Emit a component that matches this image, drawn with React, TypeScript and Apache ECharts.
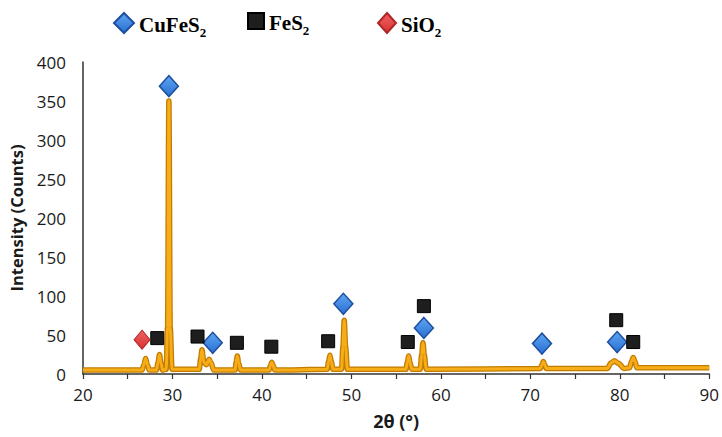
import React, { useEffect, useRef } from "react";
import * as echarts from "echarts";

// XRD pattern (2θ in degrees, intensity in counts)
const twoTheta = [
  20, 26.6, 26.8, 27.0, 27.2, 27.4, 28.2, 28.4, 28.55, 28.7, 28.9,
  29.3, 29.45, 29.6, 29.75, 29.95,
  33.0, 33.15, 33.3, 33.5, 33.8, 34.1, 34.3, 34.6,
  37.0, 37.1, 37.25, 37.4, 37.6,
  40.8, 40.95, 41.1, 41.25, 41.45,
  47.3, 47.45, 47.6, 47.75, 47.95,
  48.9, 49.05, 49.2, 49.35, 49.55,
  56.1, 56.25, 56.4, 56.55, 56.75,
  57.7, 57.85, 58.0, 58.15, 58.35,
  71.1, 71.3, 71.45, 71.6, 71.8,
  78.6, 79.0, 79.4, 79.8, 80.5,
  81.1, 81.3, 81.5, 81.7, 81.9, 90,
];
const intensity = [
  5, 5, 12, 20, 12, 5, 5, 15, 25, 15, 5,
  6, 60, 350, 60, 6,
  6, 20, 31, 15, 12, 19, 15, 5,
  5, 14, 23, 14, 5,
  5, 11, 15, 11, 5,
  6, 16, 24, 16, 6,
  6, 35, 69, 35, 6,
  6, 15, 23, 15, 6,
  6, 25, 40, 25, 6,
  7, 12, 16, 12, 7,
  7, 14, 17, 14, 7,
  8, 16, 21, 16, 8, 8,
];

// Phase markers [2θ, marker height]
const cuFeS2Marks = [
  [29.6, 369], [34.5, 40], [49.1, 90], [58.1, 59], [71.3, 39], [79.7, 41],
];
const feS2Marks = [
  [28.3, 46], [32.8, 48], [37.2, 40], [41.05, 35], [47.4, 42], [56.3, 41],
  [58.1, 87], [79.6, 69], [81.5, 41],
];
const siO2Marks = [[26.6, 44]];

const legendNames = ["CuFeS2", "FeS2", "SiO2"];
const legendLabels: Record<string, string> = {
  CuFeS2: "{b|CuFeS}{s|2}",
  FeS2: "{b|FeS}{s|2}",
  SiO2: "{b|SiO}{s|2}",
};

const yTicks = { min: 0, max: 400, interval: 50 };
const xTicks = { min: 20, max: 90, interval: 5 };

export default function App() {
  const ref = useRef<HTMLDivElement>(null);
  useEffect(() => {
    if (!ref.current) return;
    const chart = echarts.init(ref.current, null, { renderer: "svg" });
    const pattern = twoTheta.map((t, i) => [t, intensity[i]]);
    const rich = {
      b: {
        fontFamily: "Liberation Serif",
        fontWeight: "bold",
        fontSize: 21,
        color: "#000",
        lineHeight: 24,
        verticalAlign: "bottom",
      },
      s: {
        fontFamily: "Liberation Serif",
        fontWeight: "bold",
        fontSize: 13,
        color: "#000",
        lineHeight: 24,
        verticalAlign: "bottom",
        padding: [0, 0, -4, 0],
      },
    };
    const legendBase = {
      orient: "horizontal",
      top: 7,
      selectedMode: false,
      formatter: (n: string) => legendLabels[n],
      textStyle: { rich },
    };
    const blue = new echarts.graphic.LinearGradient(0, 0, 0, 1, [
      { offset: 0, color: "#5ea6f2" },
      { offset: 1, color: "#2a6fd3" },
    ]);
    const red = new echarts.graphic.LinearGradient(0, 0, 0, 1, [
      { offset: 0, color: "#f06262" },
      { offset: 1, color: "#d83232" },
    ]);
    chart.setOption({
      animation: false,
      backgroundColor: "#fff",
      legend: [
        { ...legendBase, left: 108, data: [{ name: legendNames[0], icon: "diamond" }], itemWidth: 20, itemHeight: 20 },
        { ...legendBase, left: 242, data: [{ name: legendNames[1], icon: "rect" }], itemWidth: 16, itemHeight: 16 },
        { ...legendBase, left: 372, data: [{ name: legendNames[2], icon: "diamond" }], itemWidth: 18, itemHeight: 20 },
      ],
      grid: { left: 83, right: 12, top: 62, bottom: 63, containLabel: false },
      xAxis: {
        type: "value",
        min: xTicks.min,
        max: xTicks.max,
        interval: xTicks.interval,
        name: "2θ (°)",
        nameLocation: "middle",
        nameGap: 38,
        nameTextStyle: { fontFamily: "Open Sans", fontWeight: "bold", fontSize: 18, color: "#1a1a1a" },
        axisLine: { lineStyle: { color: "#333", width: 1.5 } },
        axisTick: { show: true, length: 5, lineStyle: { color: "#333", width: 1.2 } },
        axisLabel: {
          margin: 12,
          fontFamily: "Open Sans",
          fontSize: 17,
          color: "#1a1a1a",
          formatter: (v: number) => (v % 10 === 0 ? String(v) : ""),
        },
        splitLine: { show: false },
      },
      yAxis: {
        type: "value",
        min: yTicks.min,
        max: yTicks.max,
        interval: yTicks.interval,
        name: "Intensity (Counts)",
        nameLocation: "middle",
        nameGap: 58,
        nameTextStyle: { fontFamily: "Open Sans", fontWeight: "bold", fontSize: 16.5, color: "#1a1a1a" },
        axisLine: { show: true, lineStyle: { color: "#333", width: 1.5 } },
        axisTick: { show: false },
        axisLabel: { margin: 17, fontFamily: "Open Sans", fontSize: 17, color: "#1a1a1a" },
        splitLine: { show: false },
      },
      series: [
        {
          type: "line",
          data: pattern,
          showSymbol: false,
          smooth: 0.3,
          smoothMonotone: "x",
          lineStyle: { width: 5.5, color: "#c27c00" },
          z: 2,
          silent: true,
        },
        {
          type: "line",
          data: pattern,
          showSymbol: false,
          smooth: 0.3,
          smoothMonotone: "x",
          lineStyle: { width: 3, color: "#f7ad18" },
          z: 3,
          silent: true,
        },
        {
          name: "CuFeS2",
          type: "scatter",
          data: cuFeS2Marks,
          symbol: "diamond",
          symbolSize: [19, 21],
          itemStyle: { color: blue, borderColor: "#1d4f9e", borderWidth: 1.5, opacity: 1 },
          z: 5,
        },
        {
          name: "FeS2",
          type: "scatter",
          data: feS2Marks,
          symbol: "rect",
          symbolSize: 13,
          itemStyle: { color: "#1e1e1e", borderColor: "#000", borderWidth: 1, opacity: 1 },
          z: 5,
        },
        {
          name: "SiO2",
          type: "scatter",
          data: siO2Marks,
          symbol: "diamond",
          symbolSize: [16, 19],
          itemStyle: { color: red, borderColor: "#b02525", borderWidth: 1, opacity: 1 },
          z: 5,
        },
      ],
    });
    return () => chart.dispose();
  }, []);
  return <div ref={ref} style={{ width: 722, height: 437, position: "absolute", left: 0, top: 0 }} />;
}
